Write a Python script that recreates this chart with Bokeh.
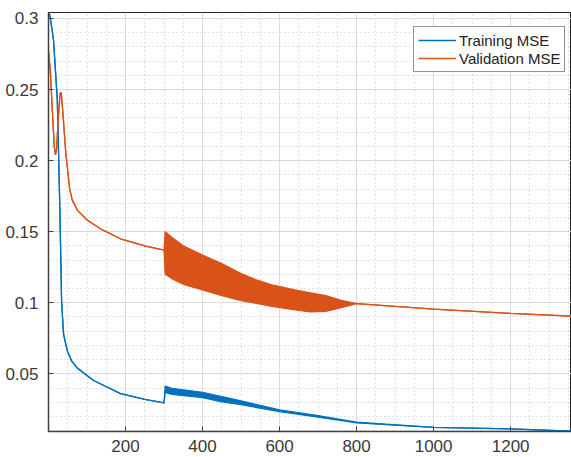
from bokeh.plotting import figure
from bokeh.models import Range1d, FixedTicker, Legend, LegendItem, ColumnDataSource
from bokeh.embed import file_html
from bokeh.resources import INLINE

# Training MSE per epoch; where the curve oscillates, hi/lo give the envelope
train_epochs = [0, 5, 13, 23, 26, 29, 32, 34, 39, 49, 60, 75, 117, 187, 250, 300,
                303, 320, 400, 450, 500, 600, 700, 800, 1000, 1200, 1358]
train_hi = [0.306, 0.300, 0.285, 0.242, 0.207, 0.172, 0.130, 0.101, 0.078, 0.066, 0.059,
            0.054, 0.0453, 0.036, 0.032, 0.0295,
            0.0414, 0.0398, 0.0370, 0.0340, 0.0309, 0.0246, 0.0206, 0.0159,
            0.0123, 0.0113, 0.0097]
train_lo = [0.306, 0.300, 0.285, 0.242, 0.207, 0.172, 0.130, 0.101, 0.078, 0.066, 0.059,
            0.054, 0.0453, 0.036, 0.032, 0.0295,
            0.0370, 0.0355, 0.0333, 0.0303, 0.0283, 0.0234, 0.0195, 0.0155,
            0.0123, 0.0113, 0.0097]

# Validation MSE per epoch, same layout
val_epochs = [0, 5, 10, 15, 18, 21, 25, 30, 33, 37, 45, 55, 62, 70, 75, 101, 135, 187,
              250, 300, 303, 320, 350, 400, 450, 500, 540, 580, 640, 680, 720, 760,
              800, 1000, 1200, 1358]
val_hi = [0.277, 0.262, 0.235, 0.210, 0.204, 0.208, 0.228, 0.247, 0.248, 0.235, 0.205,
          0.180, 0.172, 0.168, 0.165, 0.158, 0.152, 0.145, 0.140, 0.137,
          0.150, 0.146, 0.140, 0.1335, 0.1275, 0.1205, 0.116, 0.1125, 0.109, 0.107,
          0.105, 0.1016, 0.0994, 0.0955, 0.0925, 0.0905]
val_lo = [0.277, 0.262, 0.235, 0.210, 0.204, 0.208, 0.228, 0.247, 0.248, 0.235, 0.205,
          0.180, 0.172, 0.168, 0.165, 0.158, 0.152, 0.145, 0.140, 0.137,
          0.120, 0.117, 0.113, 0.109, 0.105, 0.1015, 0.0995, 0.0975, 0.095, 0.0935,
          0.094, 0.0965, 0.0994, 0.0955, 0.0925, 0.0905]

x_ticks = [200, 400, 600, 800, 1000, 1200]
y_ticks = [0.05, 0.1, 0.15, 0.2, 0.25, 0.3]

BLUE = "#0072BD"
ORANGE = "#D95319"
AXIS = "#404040"

p = figure(width=571, height=457, output_backend="svg", toolbar_location=None,
           x_range=Range1d(0, 1358), y_range=Range1d(0.0094, 0.3042),
           min_border_left=48, min_border_right=0, min_border_top=12,
           min_border_bottom=26)
p.background_fill_color = "white"
p.border_fill_color = "white"
p.outline_line_color = "#262626"
p.outline_line_width = 1

p.xaxis.ticker = FixedTicker(ticks=x_ticks, minor_ticks=list(range(0, 1400, 50)))
p.yaxis.ticker = FixedTicker(ticks=y_ticks,
                             minor_ticks=[round(0.01 * i, 2) for i in range(1, 31)])
p.xaxis.major_label_overrides = {t: str(t) for t in x_ticks}
p.yaxis.major_label_overrides = {t: f"{t:g}" for t in y_ticks}

for ax in (p.xaxis, p.yaxis):
    ax.axis_line_color = AXIS
    ax.axis_line_width = 1.5
    ax.major_tick_line_color = AXIS
    ax.major_tick_in = 5
    ax.major_tick_out = 0
    ax.minor_tick_line_color = None
    ax.major_label_text_font = "Liberation Sans"
    ax.major_label_text_font_size = "17px"
    ax.major_label_text_color = "#3a3a3a"
p.xaxis.major_label_standoff = 4
p.yaxis.major_label_standoff = 6

for g in (p.xgrid, p.ygrid):
    g.grid_line_color = "#dadada"
    g.grid_line_width = 1
    g.minor_grid_line_color = "#c4c4c4"
    g.minor_grid_line_dash = "1 3"
    g.minor_grid_line_width = 1

train = ColumnDataSource(dict(x=train_epochs, hi=train_hi, lo=train_lo))
val = ColumnDataSource(dict(x=val_epochs, hi=val_hi, lo=val_lo))

p.varea(x="x", y1="lo", y2="hi", source=train, fill_color=BLUE)
r_train = p.line(x="x", y="hi", source=train, line_color=BLUE, line_width=1.3)
p.line(x="x", y="lo", source=train, line_color=BLUE, line_width=1.3)

p.varea(x="x", y1="lo", y2="hi", source=val, fill_color=ORANGE)
r_val = p.line(x="x", y="hi", source=val, line_color=ORANGE, line_width=1.3)
p.line(x="x", y="lo", source=val, line_color=ORANGE, line_width=1.3)

legend = Legend(items=[LegendItem(label="Training MSE", renderers=[r_train]),
                       LegendItem(label="Validation MSE", renderers=[r_val])],
                location=(365, 359))
legend.border_line_color = "#262626"
legend.border_line_width = 1
legend.background_fill_color = "white"
legend.background_fill_alpha = 1
legend.label_text_font = "Liberation Sans"
legend.label_text_font_size = "15px"
legend.label_text_color = "#222222"
legend.padding = 4
legend.spacing = 0
legend.margin = 0
legend.glyph_width = 38
legend.glyph_height = 18
legend.label_height = 18
legend.label_standoff = 3
p.add_layout(legend, "center")

open("out.html", "w").write(file_html(p, INLINE))
